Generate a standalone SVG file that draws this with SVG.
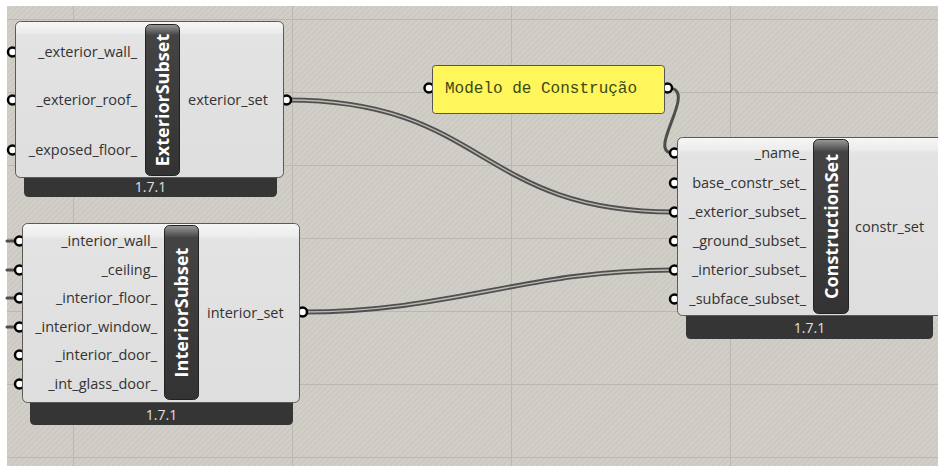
<svg xmlns="http://www.w3.org/2000/svg" width="938" height="466" viewBox="0 0 938 466">
<defs>
  <pattern id="hatch" width="4" height="4" patternUnits="userSpaceOnUse" patternTransform="rotate(45)">
    <rect width="4" height="4" fill="#d2cfc8"/>
    <rect width="1.5" height="4" fill="#cac7c0"/>
  </pattern>
  <linearGradient id="bodyG" x1="0" y1="0" x2="0" y2="1">
    <stop offset="0" stop-color="#f7f7f7"/>
    <stop offset="0.07" stop-color="#ececec"/>
    <stop offset="0.09" stop-color="#e3e3e3"/>
    <stop offset="1" stop-color="#dedede"/>
  </linearGradient>
  <linearGradient id="barG" x1="0" y1="0" x2="0" y2="1">
    <stop offset="0" stop-color="#9a9a9a"/>
    <stop offset="0.07" stop-color="#444"/>
    <stop offset="1" stop-color="#333"/>
  </linearGradient>
  <style>
    .body{fill:url(#bodyG);stroke:#5a5a5a;stroke-width:1}
    .bar{fill:url(#barG);stroke:#222;stroke-width:1}
    .foot{fill:#353535}
    .title{font-family:"Open Sans","Noto Sans",sans-serif;font-weight:bold;font-size:18px;fill:#fff;text-anchor:middle}
    .lbl{font-family:"Open Sans","Noto Sans",sans-serif;font-size:14.5px;fill:#333}
    .r{text-anchor:end}
    .ver{font-family:"Open Sans","Noto Sans",sans-serif;font-size:14px;fill:#e0e0e0;text-anchor:middle}
    .grip{fill:#fff;stroke:#000;stroke-width:2.5}
    .wire{fill:none;stroke:#4e4e4e;stroke-width:3;stroke-linecap:round}
    .wo{fill:none;stroke:#505050;stroke-width:5}
    .wi{fill:none;stroke:#bcb9b2;stroke-width:1.3}
    .grid{stroke:#bbb8b1;stroke-width:1}
  </style>
</defs>
<rect width="938" height="466" fill="#fff"/>
<rect x="7" y="6" width="931" height="460" fill="url(#hatch)"/>
<g id="grid">
  <line class="grid" x1="73.5" y1="6" x2="73.5" y2="466"/>
  <line class="grid" x1="292.5" y1="6" x2="292.5" y2="466"/>
  <line class="grid" x1="511.5" y1="6" x2="511.5" y2="466"/>
  <line class="grid" x1="730.5" y1="6" x2="730.5" y2="466"/>
  <line class="grid" x1="7" y1="19.5" x2="938" y2="19.5"/>
  <line class="grid" x1="7" y1="92.5" x2="938" y2="92.5"/>
  <line class="grid" x1="7" y1="165.5" x2="938" y2="165.5"/>
  <line class="grid" x1="7" y1="238.5" x2="938" y2="238.5"/>
  <line class="grid" x1="7" y1="311.5" x2="938" y2="311.5"/>
  <line class="grid" x1="7" y1="384.5" x2="938" y2="384.5"/>
  <line class="grid" x1="7" y1="457.5" x2="938" y2="457.5"/>
</g>
<g id="connectors">
  <path class="wire" d="M668,88 C700,88 645,153 673,153"/>
  <path class="wo" d="M287,100 C487,100 477,212 674,212"/>
  <path class="wi" d="M287,100 C487,100 477,212 674,212"/>
  <path class="wo" d="M303,312 C453,312 524,270 674,270"/>
  <path class="wi" d="M303,312 C453,312 524,270 674,270"/>
  <path class="wire" d="M7,241 H18 M7,270 H18 M7,298 H18 M7,327 H18"/>
</g>
<g id="exteriorSubset">
  <circle class="grip" cx="12.5" cy="52" r="4.5"/>
  <circle class="grip" cx="12.5" cy="100" r="4.5"/>
  <circle class="grip" cx="12.5" cy="150" r="4.5"/>
  <circle class="grip" cx="286.5" cy="100" r="4.5"/>
  <path class="foot" d="M24,176 H277 V192 Q277,197 272,197 H29 Q24,197 24,192 Z"/>
  <rect class="body" x="15.5" y="21.5" width="268" height="156" rx="5"/>
  <rect class="bar" x="145.5" y="24.5" width="34" height="151" rx="5"/>
  <text class="title" transform="translate(169,100) rotate(-90)">ExteriorSubset</text>
  <text class="lbl r" x="137" y="57">_exterior_wall_</text>
  <text class="lbl r" x="137" y="105">_exterior_roof_</text>
  <text class="lbl r" x="137" y="155">_exposed_floor_</text>
  <text class="lbl" x="188" y="105">exterior_set</text>
  <text class="ver" x="150.5" y="192">1.7.1</text>
</g>
<g id="interiorSubset">
  <circle class="grip" cx="19.5" cy="241" r="4.5"/>
  <circle class="grip" cx="19.5" cy="270" r="4.5"/>
  <circle class="grip" cx="19.5" cy="298" r="4.5"/>
  <circle class="grip" cx="19.5" cy="327" r="4.5"/>
  <circle class="grip" cx="19.5" cy="355" r="4.5"/>
  <circle class="grip" cx="19.5" cy="384" r="4.5"/>
  <circle class="grip" cx="302.5" cy="312" r="4.5"/>
  <path class="foot" d="M30,401 H293 V420 Q293,425 288,425 H35 Q30,425 30,420 Z"/>
  <rect class="body" x="22.5" y="223.5" width="277" height="179" rx="5"/>
  <rect class="bar" x="164.5" y="225.5" width="34" height="174" rx="5"/>
  <text class="title" transform="translate(188,312.5) rotate(-90)">InteriorSubset</text>
  <text class="lbl r" x="157" y="246">_interior_wall_</text>
  <text class="lbl r" x="157" y="275">_ceiling_</text>
  <text class="lbl r" x="157" y="303">_interior_floor_</text>
  <text class="lbl r" x="157" y="332">_interior_window_</text>
  <text class="lbl r" x="157" y="360">_interior_door_</text>
  <text class="lbl r" x="157" y="389">_int_glass_door_</text>
  <text class="lbl" x="207" y="318">interior_set</text>
  <text class="ver" x="161.5" y="420">1.7.1</text>
</g>
<g id="panel">
  <circle class="grip" cx="429" cy="88" r="4.5"/>
  <circle class="grip" cx="667.5" cy="88" r="4.5"/>
  <rect x="432.5" y="65.5" width="232" height="48" rx="3" fill="#fff65c" stroke="#555" stroke-width="1"/>
  <text x="445" y="93" font-family="'Liberation Mono','Courier New',monospace" font-size="16" fill="#3b4a12">Modelo de Construção</text>
</g>
<g id="constructionSet">
  <circle class="grip" cx="674.5" cy="153" r="4.5"/>
  <circle class="grip" cx="674.5" cy="183" r="4.5"/>
  <circle class="grip" cx="674.5" cy="212" r="4.5"/>
  <circle class="grip" cx="674.5" cy="241" r="4.5"/>
  <circle class="grip" cx="674.5" cy="270" r="4.5"/>
  <circle class="grip" cx="674.5" cy="299" r="4.5"/>
  <path class="foot" d="M686,315 H933 V334 Q933,339 928,339 H691 Q686,339 686,334 Z"/>
  <rect class="body" x="677.5" y="137.5" width="275" height="178" rx="5"/>
  <rect class="bar" x="813.5" y="139.5" width="35" height="174" rx="5"/>
  <text class="title" transform="translate(837.5,226.5) rotate(-90)">ConstructionSet</text>
  <text class="lbl r" x="806" y="158">_name_</text>
  <text class="lbl r" x="806" y="188">base_constr_set_</text>
  <text class="lbl r" x="806" y="217">_exterior_subset_</text>
  <text class="lbl r" x="806" y="246">_ground_subset_</text>
  <text class="lbl r" x="806" y="275">_interior_subset_</text>
  <text class="lbl r" x="806" y="304">_subface_subset_</text>
  <text class="lbl" x="855" y="232">constr_set</text>
  <text class="ver" x="809.5" y="333">1.7.1</text>
</g>
</svg>
